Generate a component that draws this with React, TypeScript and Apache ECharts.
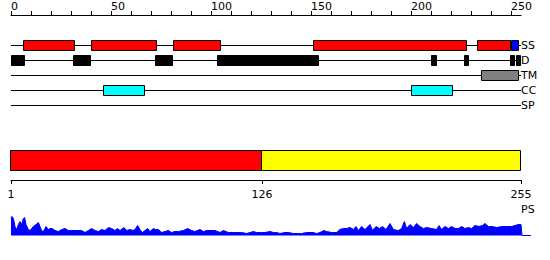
import { useEffect, useRef } from "react";
import * as echarts from "echarts";

const FONT = "DejaVu Sans";

const seqLength = 255;
const trackNames = ["SS", "D", "TM", "CC", "SP"];

// feature segments [start, end] in residue coordinates
const ssHelix = [[6, 32], [40, 73], [81, 105], [151, 228], [233, 250]];
const ssStrand = [[250, 254]];
const disorder = [[0, 7], [31, 40], [72, 81], [103, 154], [210, 213], [226.5, 229], [249.5, 252], [252.5, 255]];
const tmSegs = [[235, 254]];
const ccSegs = [[46, 67], [200, 221]];

const topTicks = [0, 10, 20, 30, 40, 50, 60, 70, 80, 90, 100, 110, 120, 130, 140, 150, 160, 170, 180, 190, 200, 210, 220, 230, 240, 250];
const topLabels = [0, 50, 100, 150, 200, 250];

const domainSegs = [[1, 126], [126, 255]];
const domainTicks = [1, 126, 255];

const psPos = [0, 0.5, 1.2, 2, 2.8, 3.7, 4.5, 5.3, 6.2, 6.8, 7.5, 8.7, 9.5, 10.3, 11.2, 12.5, 13.7, 14.5, 15.3, 16.2, 17.5, 18.7, 19.5, 20.7, 22, 23.7, 25.3, 27, 28.7, 30.3, 32, 33.7, 35.3, 37, 38.7, 40.3, 42, 43.7, 45.3, 47, 48.7, 50.3, 52, 53.2, 54.5, 56.5, 57.8, 59.5, 61.2, 62.3, 63.3, 64.5, 65.7, 67, 68.3, 69.5, 71.2, 72.3, 73.7, 75.3, 77, 78.7, 80.3, 82, 83.7, 86.2, 88.3, 90.3, 92, 94.5, 96.2, 97.8, 99.5, 102, 104.5, 106.2, 108.7, 111.2, 113.7, 115.3, 117.8, 119.5, 121.2, 122.8, 125.3, 127, 129.5, 131.2, 132.8, 134.5, 137, 138.7, 141.2, 143.7, 145.3, 147.8, 149.5, 151.2, 152.8, 154.5, 156.5, 157.8, 160.3, 162.8, 164.5, 166.2, 167.8, 169.5, 171.2, 172.5, 173.7, 175.3, 177, 179.5, 180.8, 182.5, 184.2, 185.8, 187.5, 189.5, 191.2, 193.7, 195.3, 196.7, 197.8, 199.5, 201.2, 202.8, 204.5, 206.2, 207.8, 210.3, 212.8, 214, 215.3, 217, 218.7, 220.3, 222, 223.7, 225.3, 227, 228.7, 230.3, 232, 234, 235.7, 237, 238.7, 240.7, 242.8, 245.3, 247.8, 250.3, 252, 253.7, 255, 255.5, 260];
const psVal = [18, 19, 17, 9, 6, 11, 14, 11, 17, 18, 11, 6, 5, 7, 9, 11, 13, 9, 5, 4, 9, 6, 7, 7, 5, 4, 6, 7, 5, 5, 5, 5, 5, 3, 5, 7, 5, 4, 6, 5, 8, 7, 5, 7, 5, 8, 5, 6, 5, 7, 10, 6, 3, 5, 7, 4, 7, 6, 6, 3, 4, 5, 3, 4, 4, 5, 7, 5, 4, 6, 4, 5, 5, 5, 3, 5, 3, 3, 3, 3, 2, 3, 4, 3, 3, 3, 4, 3, 3, 2, 3, 3, 2, 2, 2, 3, 3, 3, 2, 3, 5, 4, 3, 3, 6, 7, 7, 8, 6, 9, 5, 9, 6, 11, 5, 9, 7, 9, 6, 12, 6, 5, 7, 14, 7, 11, 8, 12, 9, 7, 8, 7, 6, 10, 6, 9, 7, 9, 7, 7, 9, 7, 8, 7, 10, 9, 10, 12, 9, 9, 8, 9, 9, 9, 10, 11, 11, 0, 0];

const featureColors = ["#ff0000", "#0000ff", "#000000", "#808080", "#00ffff"];

export default function App() {
  const ref = useRef<HTMLDivElement>(null);

  useEffect(() => {
    if (!ref.current) return;
    const chart = echarts.init(ref.current, null, { renderer: "svg" });

    const featureData: number[][] = [
      ...ssHelix.map(([s, e]) => [s, e, 2, 0]),
      ...ssStrand.map(([s, e]) => [s, e, 2, 1]),
      ...disorder.map(([s, e]) => [s, e, 3, 2]),
      ...tmSegs.map(([s, e]) => [s, e, 4, 3]),
      ...ccSegs.map(([s, e]) => [s, e, 5, 4]),
    ];
    const trackLineData = trackNames.map((_, i) => [0, seqLength, i + 2]);
    const domainData = domainSegs.map(([s, e], i) => [s, e, i]);
    const domainColors = ["#ff0000", "#ffff00"];

    const textStyle = { fontFamily: FONT, fontSize: 11, color: "#000" };

    chart.setOption({
      animation: false,
      textStyle: { fontFamily: FONT },
      grid: [
        { left: 11, width: 510, top: 15, height: 90 },
        { left: 11, width: 510, top: 150, height: 30 },
        { left: 11, width: 520, top: 215.5, height: 20 },
      ],
      xAxis: [
        {
          gridIndex: 0, type: "value", min: 0, max: seqLength, position: "top",
          axisLine: { show: true, lineStyle: { color: "#000", width: 1 } },
          axisTick: { show: true, customValues: topTicks, length: 4, lineStyle: { color: "#000" } },
          axisLabel: { show: true, customValues: topLabels, align: "left", margin: 3, ...textStyle },
          splitLine: { show: false },
        },
        {
          gridIndex: 1, type: "value", min: 1, max: seqLength, position: "bottom",
          axisLine: { show: true, onZero: false, lineStyle: { color: "#000", width: 1 } },
          axisTick: { show: true, customValues: domainTicks, length: 4, lineStyle: { color: "#000" } },
          axisLabel: { show: true, customValues: domainTicks, margin: 9, ...textStyle },
          splitLine: { show: false },
        },
        {
          gridIndex: 2, type: "value", min: 0, max: 260, show: false,
        },
      ],
      yAxis: [
        {
          gridIndex: 0, type: "value", min: 0, max: 6, inverse: true, position: "right",
          axisLine: { show: false }, axisTick: { show: false }, splitLine: { show: false },
          axisLabel: {
            show: true, customValues: [2, 3, 4, 5, 6], margin: 0, ...textStyle,
            formatter: (v: number) => trackNames[v - 2] ?? "",
          },
        },
        { gridIndex: 1, type: "value", min: 0, max: 3, inverse: true, show: false },
        { gridIndex: 2, type: "value", min: 0, max: 20, show: false },
      ],
      graphic: [
        { type: "text", left: 521, top: 204, style: { text: "PS", fontFamily: FONT, fontSize: 11, fill: "#000" } },
      ],
      series: [
        {
          type: "custom", xAxisIndex: 0, yAxisIndex: 0, z: 1,
          encode: { x: [0, 1], y: 2 },
          data: trackLineData,
          renderItem: (_p: any, api: any) => {
            const a = api.coord([api.value(0), api.value(2)]);
            const b = api.coord([api.value(1), api.value(2)]);
            const y = Math.round(a[1]) + 0.5;
            return { type: "line", shape: { x1: Math.round(a[0]), y1: y, x2: Math.round(b[0]), y2: y }, style: { stroke: "#000", lineWidth: 1 } };
          },
        },
        {
          type: "custom", xAxisIndex: 0, yAxisIndex: 0, z: 2,
          encode: { x: [0, 1], y: 2 },
          data: featureData,
          renderItem: (_p: any, api: any) => {
            const a = api.coord([api.value(0), api.value(2)]);
            const b = api.coord([api.value(1), api.value(2)]);
            const y = Math.round(a[1]) + 0.5;
            const x0 = Math.round(a[0]) + 0.5;
            const x1 = Math.round(b[0]) - 0.5;
            return {
              type: "rect",
              shape: { x: x0, y: y - 5, width: Math.max(1, x1 - x0), height: 10 },
              style: { fill: featureColors[api.value(3)], stroke: "#000", lineWidth: 1 },
            };
          },
        },
        {
          type: "custom", xAxisIndex: 1, yAxisIndex: 1, z: 2,
          encode: { x: [0, 1] },
          data: domainData,
          renderItem: (_p: any, api: any) => {
            const a = api.coord([api.value(0), 0]);
            const b = api.coord([api.value(1), 2]);
            const x0 = Math.round(a[0]) - 0.5;
            const x1 = Math.round(b[0]) - 0.5;
            const y0 = Math.round(a[1]) + 0.5;
            const y1 = Math.round(b[1]) + 0.5;
            return {
              type: "rect",
              shape: { x: x0, y: y0, width: x1 - x0, height: y1 - y0 },
              style: { fill: domainColors[api.value(2)], stroke: "#000", lineWidth: 1 },
            };
          },
        },
        {
          type: "line", xAxisIndex: 2, yAxisIndex: 2,
          data: psPos.map((p, i) => [p, psVal[i]]),
          showSymbol: false, symbol: "none", smooth: false,
          lineStyle: { color: "#0000ff", width: 1 },
          areaStyle: { color: "#0000ff", opacity: 1 },
        },
      ],
    });

    return () => chart.dispose();
  }, []);

  return <div ref={ref} style={{ width: 550, height: 260, position: "absolute", left: 0, top: 0 }} />;
}
